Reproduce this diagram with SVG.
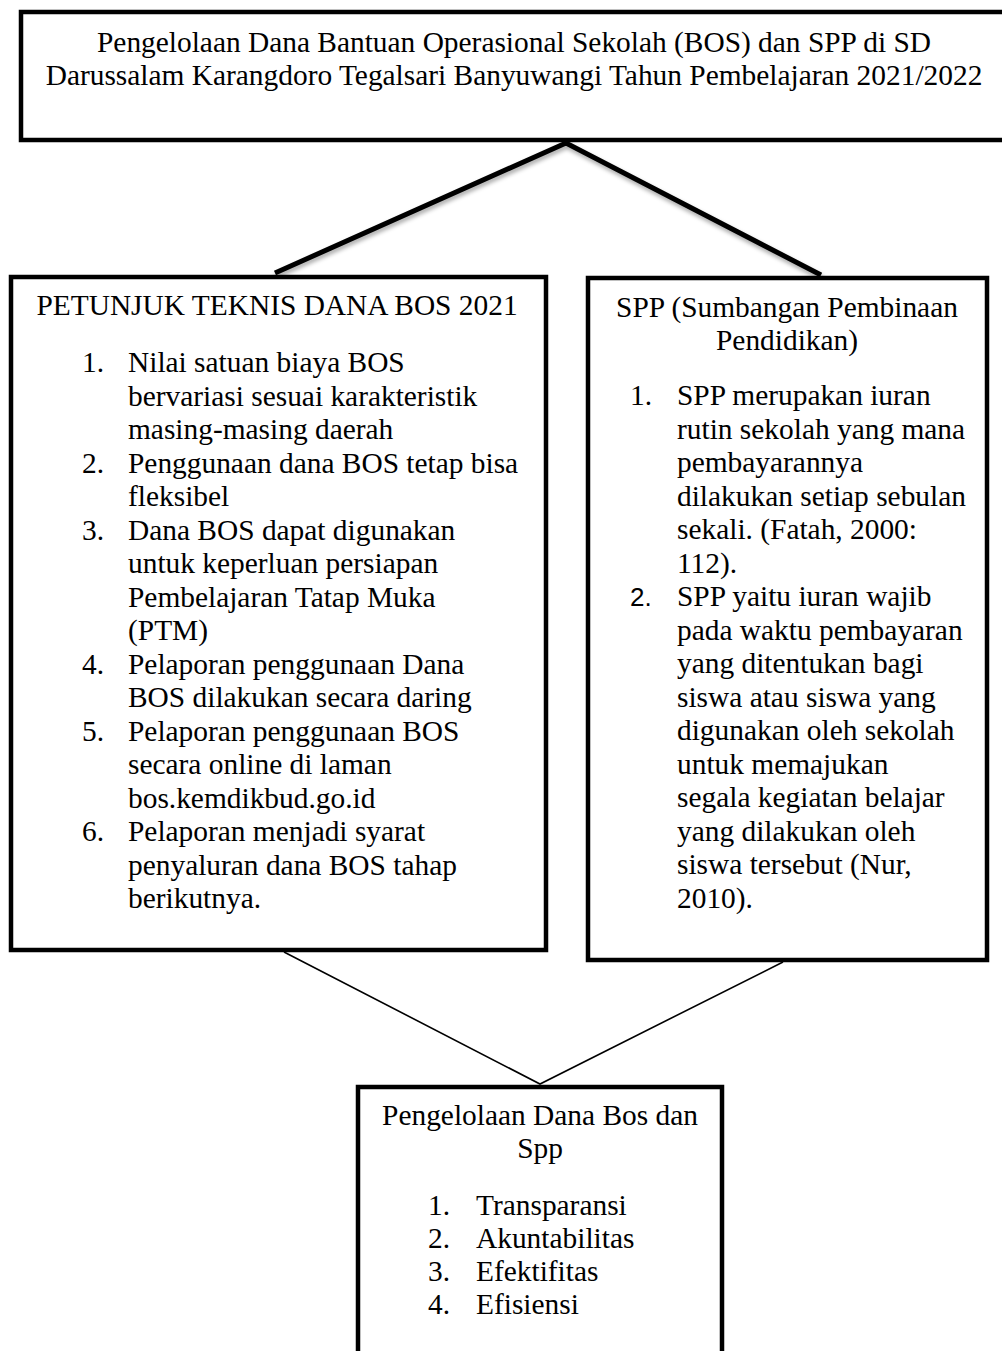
<svg xmlns="http://www.w3.org/2000/svg" width="1002" height="1351" viewBox="0 0 1002 1351">
<defs>
<style>
.box{fill:#fff;stroke:#000;stroke-width:4.5}
.t{font-family:"Liberation Serif","Times New Roman",serif;font-size:29.4px;fill:#000}
.c{text-anchor:middle}
.s{font-family:"Liberation Sans",Arial,sans-serif;font-size:26px;fill:#000}
.thick{stroke:#000;stroke-width:5;fill:none}
.thin{stroke:#000;stroke-width:1.6;fill:none}
</style>
<filter id="sh" x="-10%" y="-10%" width="120%" height="130%">
<feDropShadow dx="1" dy="3" stdDeviation="2" flood-color="#000" flood-opacity="0.35"/>
</filter>
</defs>
<rect width="1002" height="1351" fill="#fff"/>

<g id="connectors">
<polyline class="thick" filter="url(#sh)" points="275,273 566,143 821,275"/>
<polyline class="thin" points="284,952 540,1084 783,962"/>
</g>

<g id="top">
<rect class="box" x="21" y="12" width="988" height="128"/>
<text class="t c" x="514" y="52">Pengelolaan Dana Bantuan Operasional Sekolah (BOS) dan SPP di SD</text>
<text class="t c" x="514" y="85">Darussalam Karangdoro Tegalsari Banyuwangi Tahun Pembelajaran 2021/2022</text>
</g>

<g id="left">
<rect class="box" x="11" y="277" width="535" height="673"/>
<text class="t c" x="277" y="315">PETUNJUK TEKNIS DANA BOS 2021</text>
<g class="t">
<text x="82" y="372">1.</text>
<text x="128" y="372">Nilai satuan biaya BOS</text>
<text x="128" y="405.5">bervariasi sesuai karakteristik</text>
<text x="128" y="439">masing-masing daerah</text>
<text x="82" y="472.5">2.</text>
<text x="128" y="472.5">Penggunaan dana BOS tetap bisa</text>
<text x="128" y="506">fleksibel</text>
<text x="82" y="539.5">3.</text>
<text x="128" y="539.5">Dana BOS dapat digunakan</text>
<text x="128" y="573">untuk keperluan persiapan</text>
<text x="128" y="606.5">Pembelajaran Tatap Muka</text>
<text x="128" y="640">(PTM)</text>
<text x="82" y="673.5">4.</text>
<text x="128" y="673.5">Pelaporan penggunaan Dana</text>
<text x="128" y="707">BOS dilakukan secara daring</text>
<text x="82" y="740.5">5.</text>
<text x="128" y="740.5">Pelaporan penggunaan BOS</text>
<text x="128" y="774">secara online di laman</text>
<text x="128" y="807.5">bos.kemdikbud.go.id</text>
<text x="82" y="841">6.</text>
<text x="128" y="841">Pelaporan menjadi syarat</text>
<text x="128" y="874.5">penyaluran dana BOS tahap</text>
<text x="128" y="908">berikutnya.</text>
</g>
</g>

<g id="right">
<rect class="box" x="588" y="278" width="399" height="682"/>
<text class="t c" x="787" y="317">SPP (Sumbangan Pembinaan</text>
<text class="t c" x="787" y="350">Pendidikan)</text>
<g class="t">
<text x="630" y="405">1.</text>
<text x="677" y="405">SPP merupakan iuran</text>
<text x="677" y="438.5">rutin sekolah yang mana</text>
<text x="677" y="472">pembayarannya</text>
<text x="677" y="505.5">dilakukan setiap sebulan</text>
<text x="677" y="539">sekali. (Fatah, 2000:</text>
<text x="677" y="572.5">112).</text>
<text x="677" y="606">SPP yaitu iuran wajib</text>
<text x="677" y="639.5">pada waktu pembayaran</text>
<text x="677" y="673">yang ditentukan bagi</text>
<text x="677" y="706.5">siswa atau siswa yang</text>
<text x="677" y="740">digunakan oleh sekolah</text>
<text x="677" y="773.5">untuk memajukan</text>
<text x="677" y="807">segala kegiatan belajar</text>
<text x="677" y="840.5">yang dilakukan oleh</text>
<text x="677" y="874">siswa tersebut (Nur,</text>
<text x="677" y="907.5">2010).</text>
</g>
<text class="s" x="630" y="606">2.</text>
</g>

<g id="bottom">
<rect class="box" x="358" y="1087" width="364" height="280"/>
<text class="t c" x="540" y="1125">Pengelolaan Dana Bos dan</text>
<text class="t c" x="540" y="1158">Spp</text>
<g class="t">
<text x="428" y="1215">1.</text>
<text x="476" y="1215">Transparansi</text>
<text x="428" y="1248">2.</text>
<text x="476" y="1248">Akuntabilitas</text>
<text x="428" y="1281">3.</text>
<text x="476" y="1281">Efektifitas</text>
<text x="428" y="1314">4.</text>
<text x="476" y="1314">Efisiensi</text>
</g>
</g>
</svg>
